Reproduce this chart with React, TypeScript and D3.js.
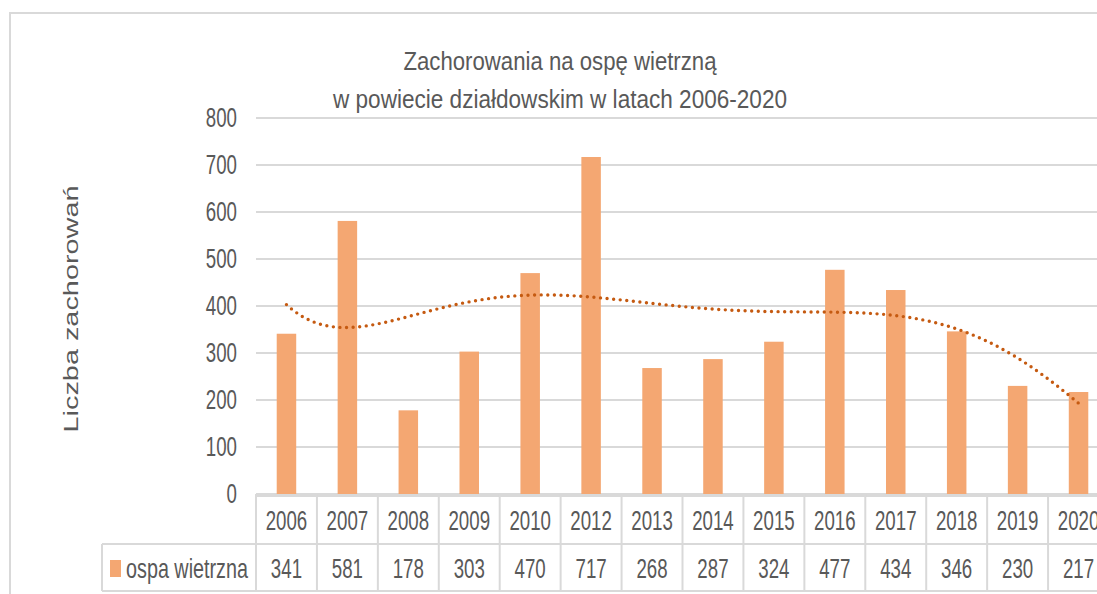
import React from 'react';
import * as d3 from 'd3';

const years = ['2006','2007','2008','2009','2010','2012','2013','2014','2015','2016','2017','2018','2019','2020'];
const values = [341,581,178,303,470,717,268,287,324,477,434,346,230,217];
const yTicks = [0,100,200,300,400,500,600,700,800];
const seriesName = 'ospa wietrzna';
const titleLines = ['Zachorowania na ospę wietrzną', 'w powiecie działdowskim w latach 2006-2020'];
const yAxisTitle = 'Liczba zachorowań';
const trendOrder = 6;

function polyFit(xs: number[], ys: number[], order: number) {
  const n = order + 1;
  const A: number[][] = Array.from({ length: n }, () => new Array(n + 1).fill(0));
  for (let k = 0; k < xs.length; k++) {
    const pw: number[] = [];
    for (let i = 0; i < 2 * n; i++) pw.push(Math.pow(xs[k], i));
    for (let i = 0; i < n; i++) {
      for (let j = 0; j < n; j++) A[i][j] += pw[i + j];
      A[i][n] += pw[i] * ys[k];
    }
  }
  for (let c = 0; c < n; c++) {
    let p = c;
    for (let r = c + 1; r < n; r++) if (Math.abs(A[r][c]) > Math.abs(A[p][c])) p = r;
    [A[c], A[p]] = [A[p], A[c]];
    for (let r = 0; r < n; r++) {
      if (r === c) continue;
      const f = A[r][c] / A[c][c];
      for (let j = c; j <= n; j++) A[r][j] -= f * A[c][j];
    }
  }
  return A.map((row, i) => row[n] / row[i]);
}

const FONT = "'Liberation Sans', Arial, sans-serif";
const GRAY = '#595959';
const LINE = '#d9d9d9';
const BAR = '#F4A772';

export default function App() {
  const W = 1097, H = 594;
  const x0 = 256, x1 = 1109;
  const y = d3.scaleLinear().domain([0, 800]).range([494, 118]);
  const band = d3.scaleBand<string>().domain(years).range([x0, x1]).padding(0);
  const bw = band.bandwidth();
  const barW = bw * 0.32;
  const xc = d3.scaleLinear().domain([0.5, years.length + 0.5]).range([x0, x1]);

  const idx = values.map((_, i) => i + 1);
  const mid = (years.length + 1) / 2, half = (years.length - 1) / 2;
  const coef = polyFit(idx.map(i => (i - mid) / half), values, trendOrder);
  const trendPts = d3.range(0, 201).map(k => {
    const xi = 1 + (years.length - 1) * k / 200;
    const t = (xi - mid) / half;
    let v = 0;
    for (let i = coef.length - 1; i >= 0; i--) v = v * t + coef[i];
    return [xc(xi), y(v)] as [number, number];
  });
  const trendPath = d3.line()(trendPts) || '';

  const row1Top = 496, row1Bot = 544, row2Bot = 591, legendLeft = 102;
  const numText = (tx: number, ty: number, s: string, anchor: string) => (
    <text transform={`translate(${tx},${ty}) scale(0.68,1)`} textAnchor={anchor} dominantBaseline="central"
      fontFamily={FONT} fontSize={27.5} fill={GRAY}>{s}</text>
  );

  return (
    <div style={{ position: 'fixed', left: 0, top: 0 }}>
      <svg width={W} height={H} style={{ display: 'block', background: '#fff' }}>
        <rect x={10} y={13} width={W + 20} height={H + 20} fill="#fff" stroke={LINE} strokeWidth={2} />
        <text x={560} y={70} textAnchor="middle" fontFamily={FONT} fontSize={25.5} fill={GRAY}
          textLength={313} lengthAdjust="spacingAndGlyphs">{titleLines[0]}</text>
        <text x={560} y={108} textAnchor="middle" fontFamily={FONT} fontSize={25.5} fill={GRAY}
          textLength={454} lengthAdjust="spacingAndGlyphs">{titleLines[1]}</text>
        <text transform={`translate(70,309) rotate(-90)`} textAnchor="middle" dominantBaseline="central"
          fontFamily={FONT} fontSize={21} fill={GRAY}
          textLength={247} lengthAdjust="spacingAndGlyphs">{yAxisTitle}</text>
        {yTicks.map(t => (
          <g key={t}>
            <line x1={x0} x2={x1} y1={y(t)} y2={y(t)} stroke={LINE} strokeWidth={2} />
            {numText(237, y(t), String(t), 'end')}
          </g>
        ))}
        {values.map((v, i) => (
          <rect key={years[i]} x={(band(years[i]) as number) + (bw - barW) / 2} y={y(v)} width={barW}
            height={y(0) - y(v)} fill={BAR} />
        ))}
        <path d={trendPath} fill="none" stroke="#C55A11" strokeWidth={3.4} strokeDasharray="0 6.6" strokeLinecap="round" />
        <g stroke={LINE} strokeWidth={2} fill="none">
          <line x1={x0} x2={x1} y1={row1Top} y2={row1Top} />
          <line x1={legendLeft} x2={x1} y1={row1Bot} y2={row1Bot} />
          <line x1={legendLeft} x2={x1} y1={row2Bot} y2={row2Bot} />
          <line x1={legendLeft} x2={legendLeft} y1={row1Bot} y2={row2Bot} />
          {years.map(yr => (
            <line key={yr} x1={band(yr) as number} x2={band(yr) as number} y1={494} y2={row2Bot} />
          ))}
          <line x1={x1} x2={x1} y1={494} y2={row2Bot} />
        </g>
        {years.map((yr, i) => (
          <g key={yr}>
            {numText((band(yr) as number) + bw / 2, (row1Top + row1Bot) / 2 + 1, yr, 'middle')}
            {numText((band(yr) as number) + bw / 2, (row1Bot + row2Bot) / 2 + 1, String(values[i]), 'middle')}
          </g>
        ))}
        <rect x={110} y={560} width={11} height={17} fill={BAR} />
        <text x={126} y={(row1Bot + row2Bot) / 2 + 1} dominantBaseline="central"
          fontFamily={FONT} fontSize={27.5} fill={GRAY}
          textLength={122} lengthAdjust="spacingAndGlyphs">{seriesName}</text>
      </svg>
    </div>
  );
}
